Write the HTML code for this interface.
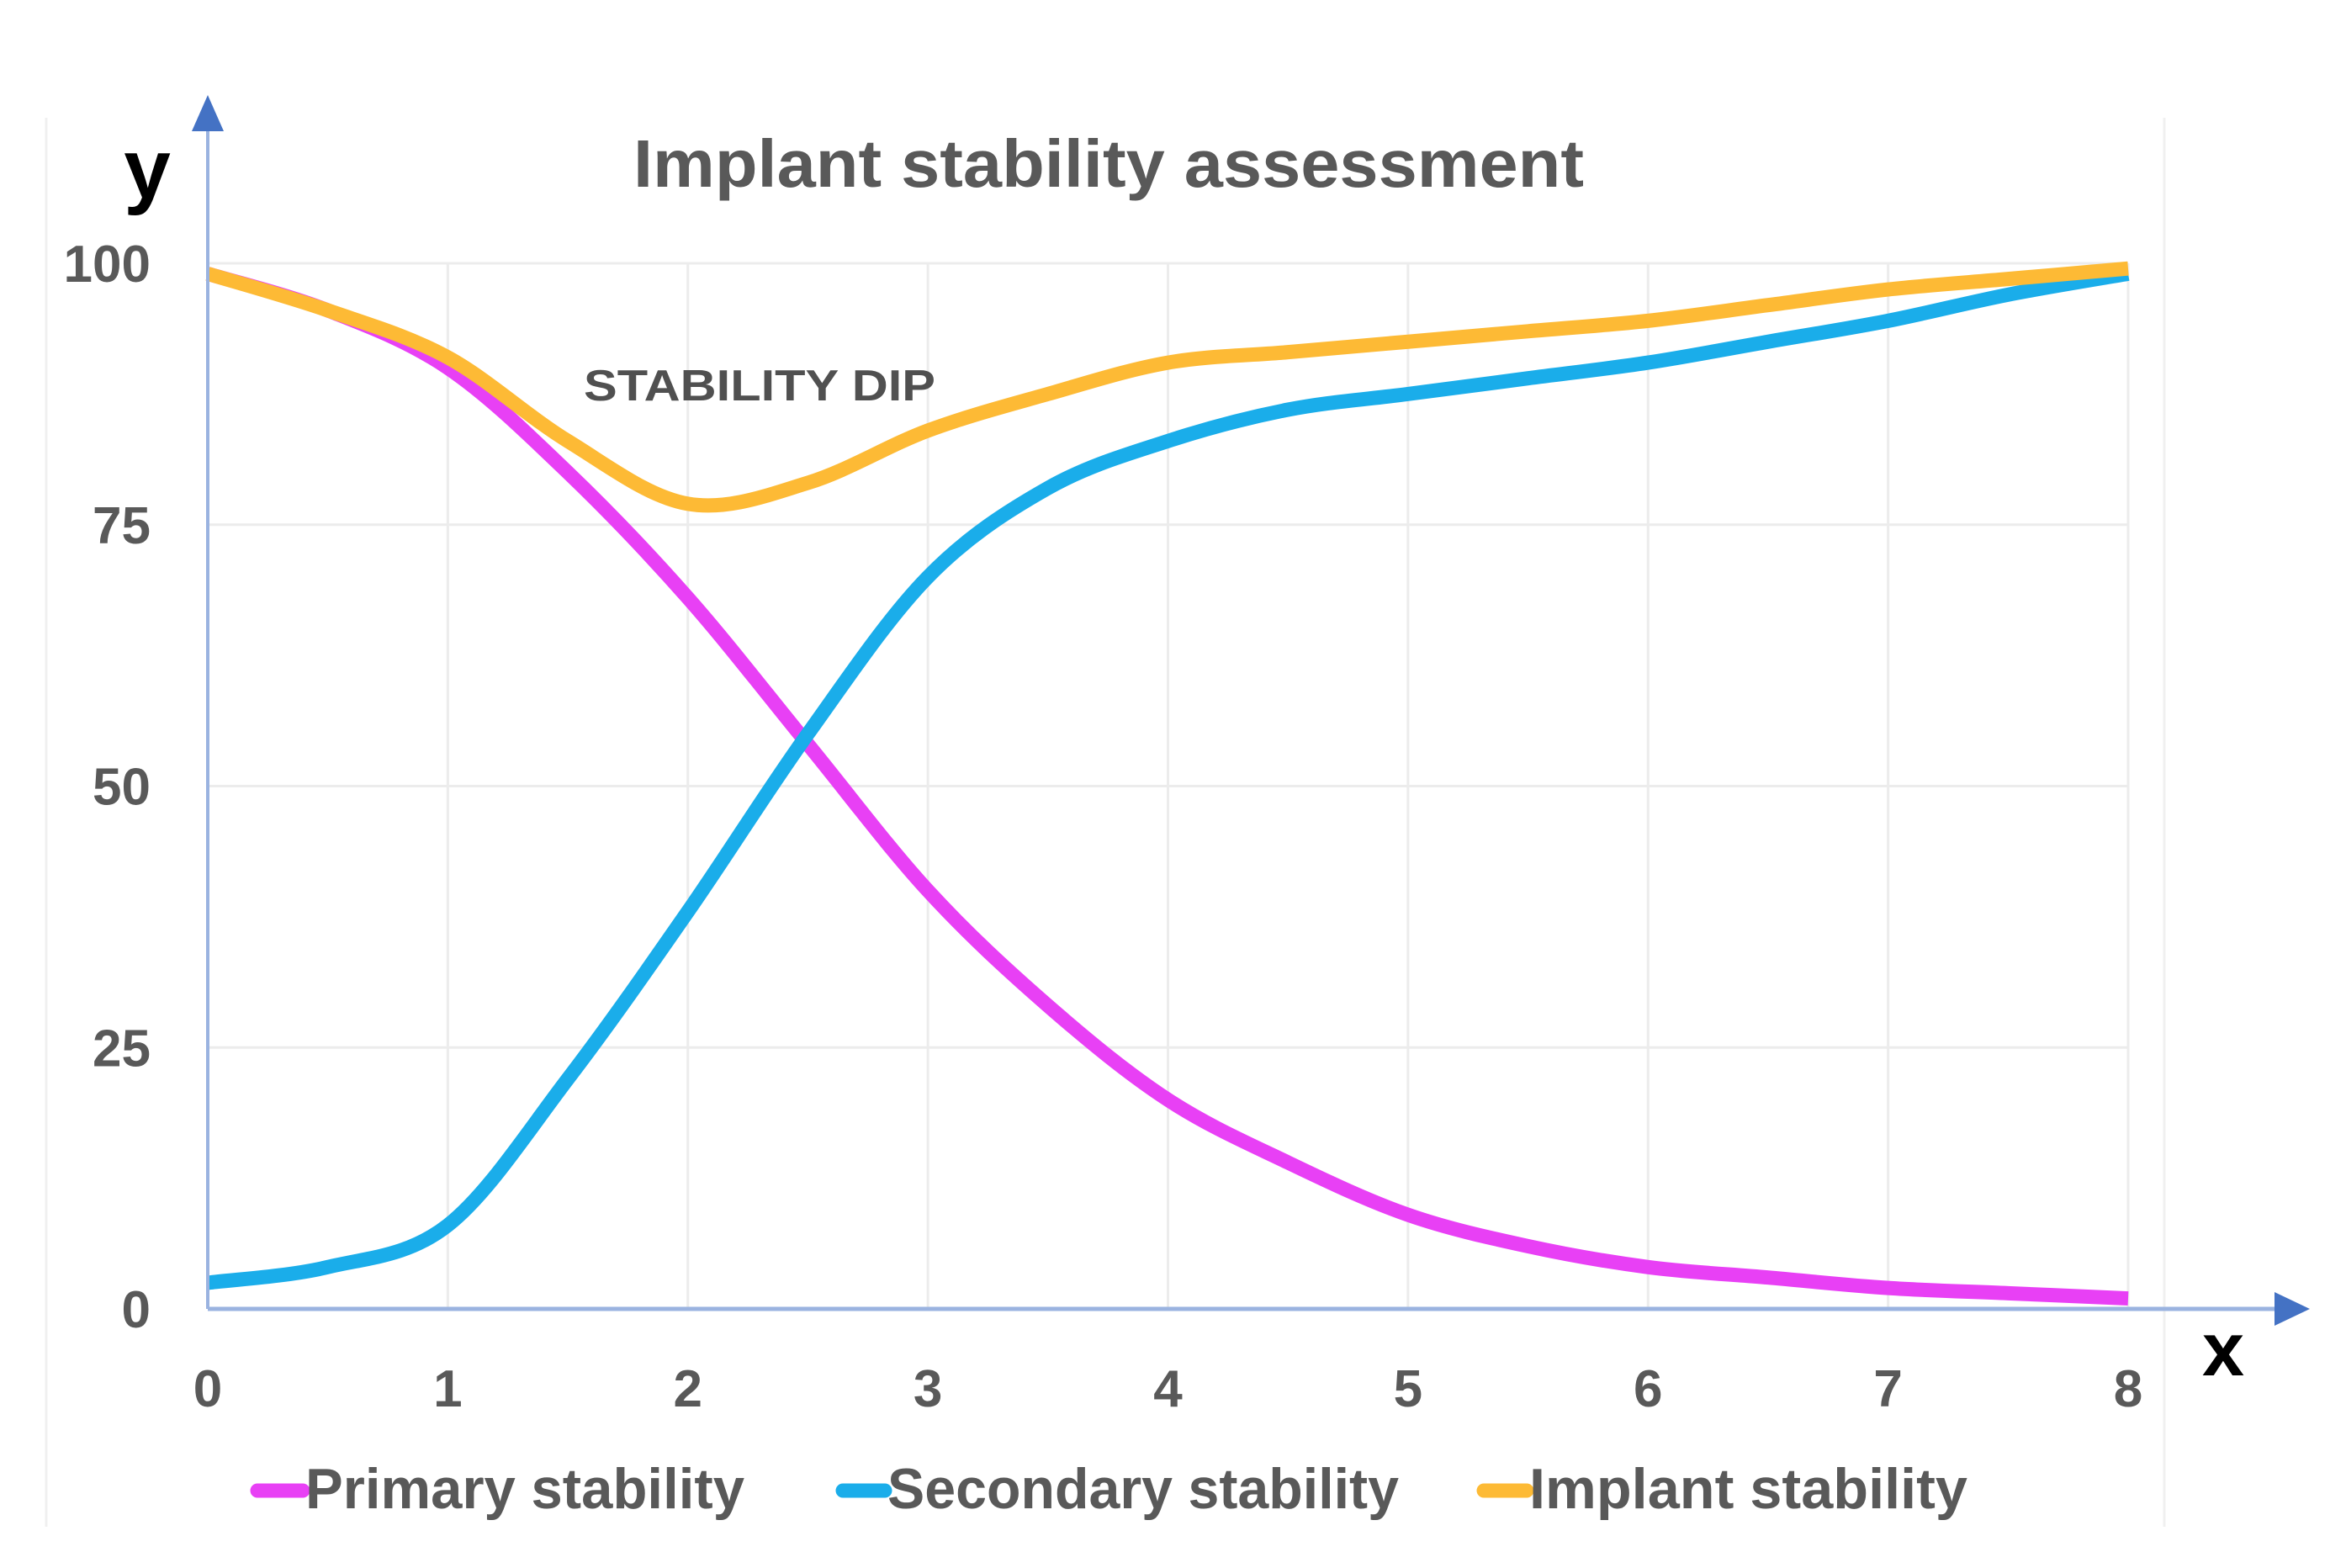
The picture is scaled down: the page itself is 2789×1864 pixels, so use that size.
<!DOCTYPE html>
<html><head><meta charset="utf-8"><style>
html,body{margin:0;padding:0;background:#fff;}
svg{display:block;}
text{font-family:"Liberation Sans",sans-serif;}
</style></head><body>
<svg id="chart" width="2789" height="1864" viewBox="0 0 2789 1864" xmlns="http://www.w3.org/2000/svg">
<rect x="0" y="0" width="2789" height="1864" fill="#fff"/>
<line x1="55" y1="140" x2="55" y2="1815" stroke="#f0f0f0" stroke-width="3"/>
<line x1="2573" y1="140" x2="2573" y2="1815" stroke="#f0f0f0" stroke-width="3"/>
<g id="grid"></g>
<g id="series"></g>
<g id="axes"></g>
<text x="1318" y="222" text-anchor="middle" font-size="80" font-weight="bold" fill="#595959" textLength="1130" lengthAdjust="spacingAndGlyphs">Implant stability assessment</text>
<text x="175" y="235" text-anchor="middle" font-size="100" font-weight="bold" fill="#000">y</text>
<text x="2643" y="1635" text-anchor="middle" font-size="90" font-weight="bold" fill="#000">x</text>
<text x="694" y="476" font-size="52" font-weight="bold" fill="#505050" textLength="418" lengthAdjust="spacingAndGlyphs">STABILITY DIP</text>
<g>
<g>
<line x1="306" y1="1772" x2="360" y2="1772" stroke="#E840F5" stroke-width="17" stroke-linecap="round"/>
<text x="363" y="1793" font-size="68" font-weight="bold" fill="#595959" textLength="522" lengthAdjust="spacingAndGlyphs">Primary stability</text></g>
<g>
<line x1="1002" y1="1772" x2="1052" y2="1772" stroke="#1AADEA" stroke-width="17" stroke-linecap="round"/>
<text x="1055" y="1793" font-size="68" font-weight="bold" fill="#595959" textLength="608" lengthAdjust="spacingAndGlyphs">Secondary stability</text></g>
<g>
<line x1="1764" y1="1772" x2="1815" y2="1772" stroke="#FDBA35" stroke-width="17" stroke-linecap="round"/>
<text x="1818" y="1793" font-size="68" font-weight="bold" fill="#595959" textLength="521" lengthAdjust="spacingAndGlyphs">Implant stability</text></g>
</g>
</svg>
<script>
const xValues = [0,0.5,1,1.5,2,2.5,3,3.5,4,4.5,5,5.5,6,6.5,7,7.5,8];
const primaryValues = [99,95.5,90,80,68,54,40,29,20,14,9,6,4,3,2,1.5,1];
const secondaryValues = [2.5,4,8,22,38,55,70,78.5,83,86,87.5,89,90.5,92.5,94.5,97,99];
const implantValues = [99,95.5,91,83,77,79,84,87.5,90.5,91.5,92.5,93.5,94.5,96,97.5,98.5,99.5];
const xTicks = [0,1,2,3,4,5,6,7,8];
const yTicks = [0,25,50,75,100];

const NS = 'http://www.w3.org/2000/svg';
const X0 = 247, X1 = 2530, Y0 = 1556, Y1 = 313;
function sx(v){ return X0 + (v - 0) / 8 * (X1 - X0); }
function sy(v){ return Y0 - (v - 0) / 100 * (Y0 - Y1); }
function mk(tag, attrs, parent){ const e = document.createElementNS(NS, tag); for (const k in attrs) e.setAttribute(k, attrs[k]); parent.appendChild(e); return e; }

const grid = document.getElementById('grid');
xTicks.forEach(t => {
  if (t === 0) return;
  const l = mk('line', {x1: sx(t), y1: sy(100), x2: sx(t), y2: sy(0), stroke: '#ececec', 'stroke-width': 3}, grid);
  
  
});
yTicks.forEach(t => {
  if (t === 0) return;
  const l = mk('line', {x1: sx(0), y1: sy(t), x2: sx(8), y2: sy(t), stroke: '#ececec', 'stroke-width': 3}, grid);
  
  
});

function pathFor(vals){
  const p = vals.map((v, i) => [sx(xValues[i]), sy(v)]);
  let d = 'M' + p[0][0] + ',' + p[0][1];
  for (let i = 0; i < p.length - 1; i++){
    const a = p[i-1] || p[i], b = p[i], c = p[i+1], e = p[i+2] || c;
    const c1x = b[0] + (c[0]-a[0])/6, c1y = b[1] + (c[1]-a[1])/6;
    const c2x = c[0] - (e[0]-b[0])/6, c2y = c[1] - (e[1]-b[1])/6;
    d += ' C' + c1x + ',' + c1y + ' ' + c2x + ',' + c2y + ' ' + c[0] + ',' + c[1];
  }
  return d;
}
const series = document.getElementById('series');
const p1 = mk('path', {d: pathFor(primaryValues), fill: 'none', stroke: '#E840F5', 'stroke-width': 17, 'stroke-linecap': 'butt'}, series);


const p2 = mk('path', {d: pathFor(secondaryValues), fill: 'none', stroke: '#1AADEA', 'stroke-width': 17, 'stroke-linecap': 'butt'}, series);


const p3 = mk('path', {d: pathFor(implantValues), fill: 'none', stroke: '#FDBA35', 'stroke-width': 17, 'stroke-linecap': 'butt'}, series);



const axes = document.getElementById('axes');
const ya = mk('line', {x1: X0, y1: Y0, x2: X0, y2: 150, stroke: '#9AB3E0', 'stroke-width': 4}, axes);


const yar = mk('polygon', {points: (X0-19)+',156 '+(X0+19)+',156 '+X0+',113', fill: '#4472C4'}, axes);


const xa = mk('line', {x1: X0, y1: Y0, x2: 2710, y2: Y0, stroke: '#9AB3E0', 'stroke-width': 5}, axes);


const xar = mk('polygon', {points: '2704,'+(Y0-20)+' 2704,'+(Y0+20)+' 2746,'+Y0, fill: '#4472C4'}, axes);



xTicks.forEach(t => {
  const tx = mk('text', {x: sx(t), y: 1672, 'text-anchor': 'middle', 'font-size': 62, 'font-weight': 'bold', fill: '#595959'}, axes);
  tx.textContent = String(t);
  
  
});
yTicks.forEach(t => {
  const tx = mk('text', {x: 179, y: sy(t) + 22, 'text-anchor': 'end', 'font-size': 62, 'font-weight': 'bold', fill: '#595959'}, axes);
  tx.textContent = String(t);
  
  
});
</script>
</body></html>
